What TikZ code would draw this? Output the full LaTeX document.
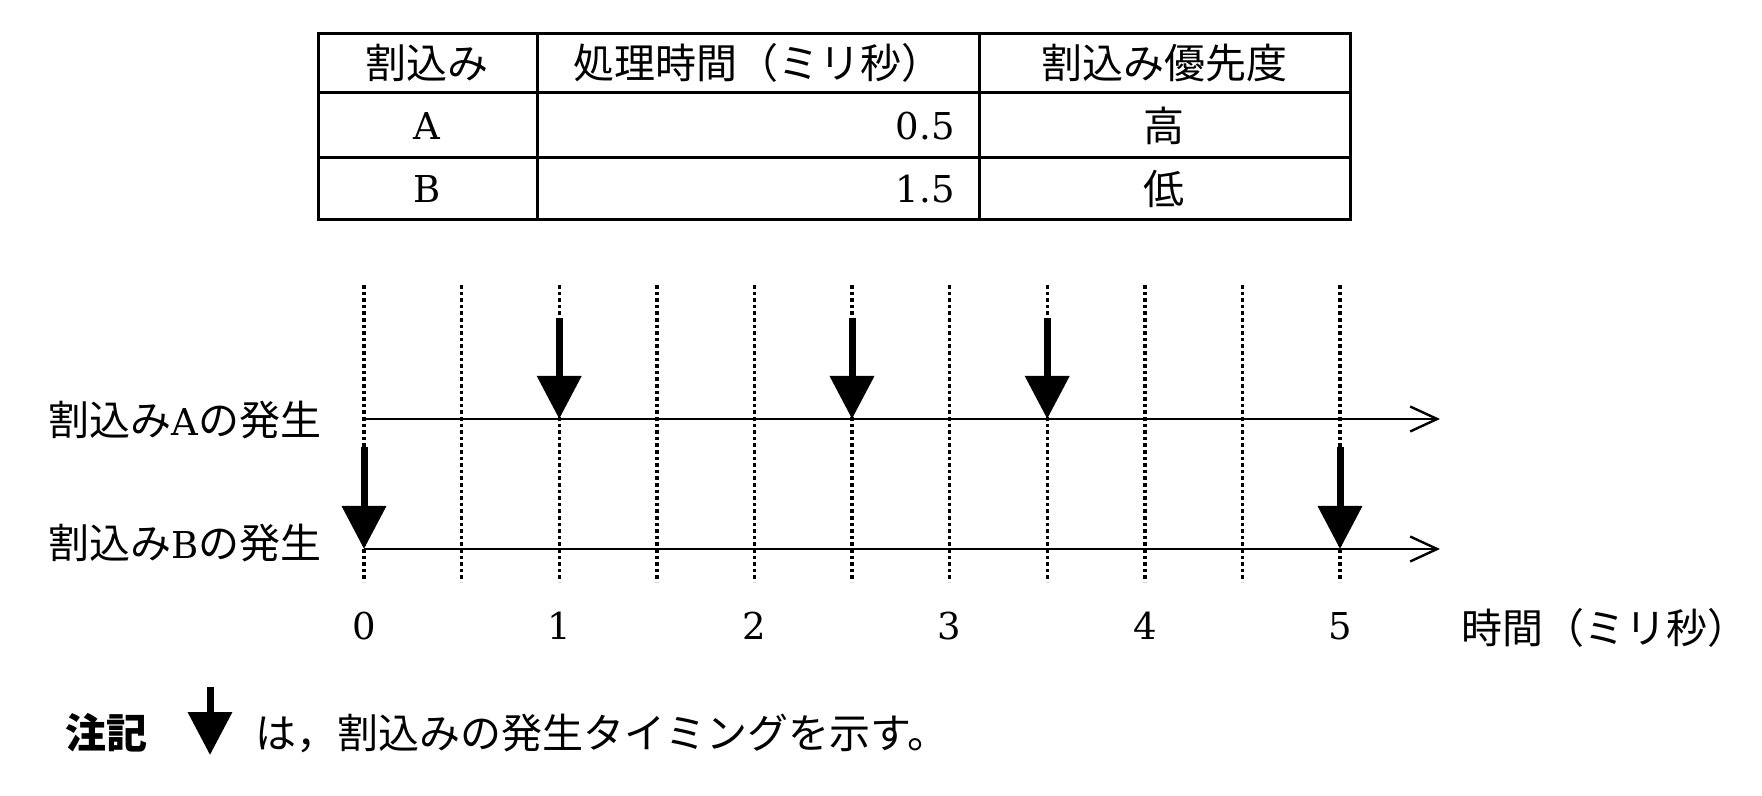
\documentclass[tikz,border=0pt]{standalone}
\usepackage{fontspec}
\setmainfont{DejaVu Serif}
\newfontfamily\cjk{Noto Sans CJK JP}
\newcommand\lat[1]{{\rmfamily\fontsize{18.5pt}{22pt}\selectfont #1}}
\usetikzlibrary{arrows.meta}

\tikzset{
	lbl/.style={font=\fontsize{20.5pt}{24pt}\selectfont, inner sep=0pt},
	cell/.style={line width=1.5pt},
	gridline/.style={line width=1.7pt, dash pattern=on 1.8pt off 1.5pt},
	timeaxis/.style={line width=1.2pt, -{Straight Barb[length=13.5pt,width=12.5pt,line width=1.2pt]}},
	irq/.style={line width=3.5pt, -{Triangle[length=21.5pt,width=21.5pt]}}
}

\begin{document}
\begin{tikzpicture}[x=0.5pt,y=-0.5pt]
	\useasboundingbox (0,0) rectangle (1762,796);

	% table
	\draw[cell] (318,34) rectangle (1350,220);
	\draw[cell] (318,93) -- (1350,93);
	\draw[cell] (318,158) -- (1350,158);
	\draw[cell] (537,34) -- (537,220);
	\draw[cell] (979,34) -- (979,220);

	\node[lbl] (hdirq) at (427,63) {\cjk 割込み};
	\node[lbl] (hdtime) at (758,63) {\cjk 処理時間（ミリ秒）};
	\node[lbl] (hdprio) at (1164,63) {\cjk 割込み優先度};
	\node[lbl] (irqa) at (427,126) {\lat{A}};
	\node[lbl,anchor=east] (timea) at (955,126) {\lat{0.5}};
	\node[lbl] (prioa) at (1164,126) {\cjk 高};
	\node[lbl] (irqb) at (427,189) {\lat{B}};
	\node[lbl,anchor=east] (timeb) at (955,189) {\lat{1.5}};
	\node[lbl] (priob) at (1164,189) {\cjk 低};

	% time grid
	\foreach \i in {0,...,10}
		\draw[gridline] ({364+97.6*\i},285) -- ({364+97.6*\i},582);

	\coordinate (astart) at (364,419);
	\coordinate (aend) at (1440,419);
	\coordinate (bstart) at (364,549);
	\coordinate (bend) at (1440,549);
	\draw[timeaxis] (astart) -- (aend);
	\draw[timeaxis] (bstart) -- (bend);

	\node[lbl,anchor=east] (lbla) at (322,420) {{\cjk 割込み}\lat{A}{\cjk の発生}};
	\node[lbl,anchor=east] (lblb) at (322,543) {{\cjk 割込み}\lat{B}{\cjk の発生}};

	% interrupt events
	\foreach \t in {1,2.5,3.5}
		\draw[irq] ({364+195.2*\t},318) -- ({364+195.2*\t},419);
	\foreach \t in {0,5}
		\draw[irq] ({364+195.2*\t},447) -- ({364+195.2*\t},549);

	\foreach \n in {0,...,5}
		\node[lbl] (tick\n) at ({364+195.2*\n},626) {\lat{\n}};
	\node[lbl,anchor=west] (unit) at (1461,628) {\cjk 時間（ミリ秒）};

	% note
	\node[lbl,anchor=west] (notehd) at (65,733) {\cjk\bfseries 注記};
	\draw[irq] (210,687) -- (210,755);
	\node[lbl,anchor=west] (notetxt) at (255,733) {\cjk は，割込みの発生タイミングを示す。};
\end{tikzpicture}
\end{document}
